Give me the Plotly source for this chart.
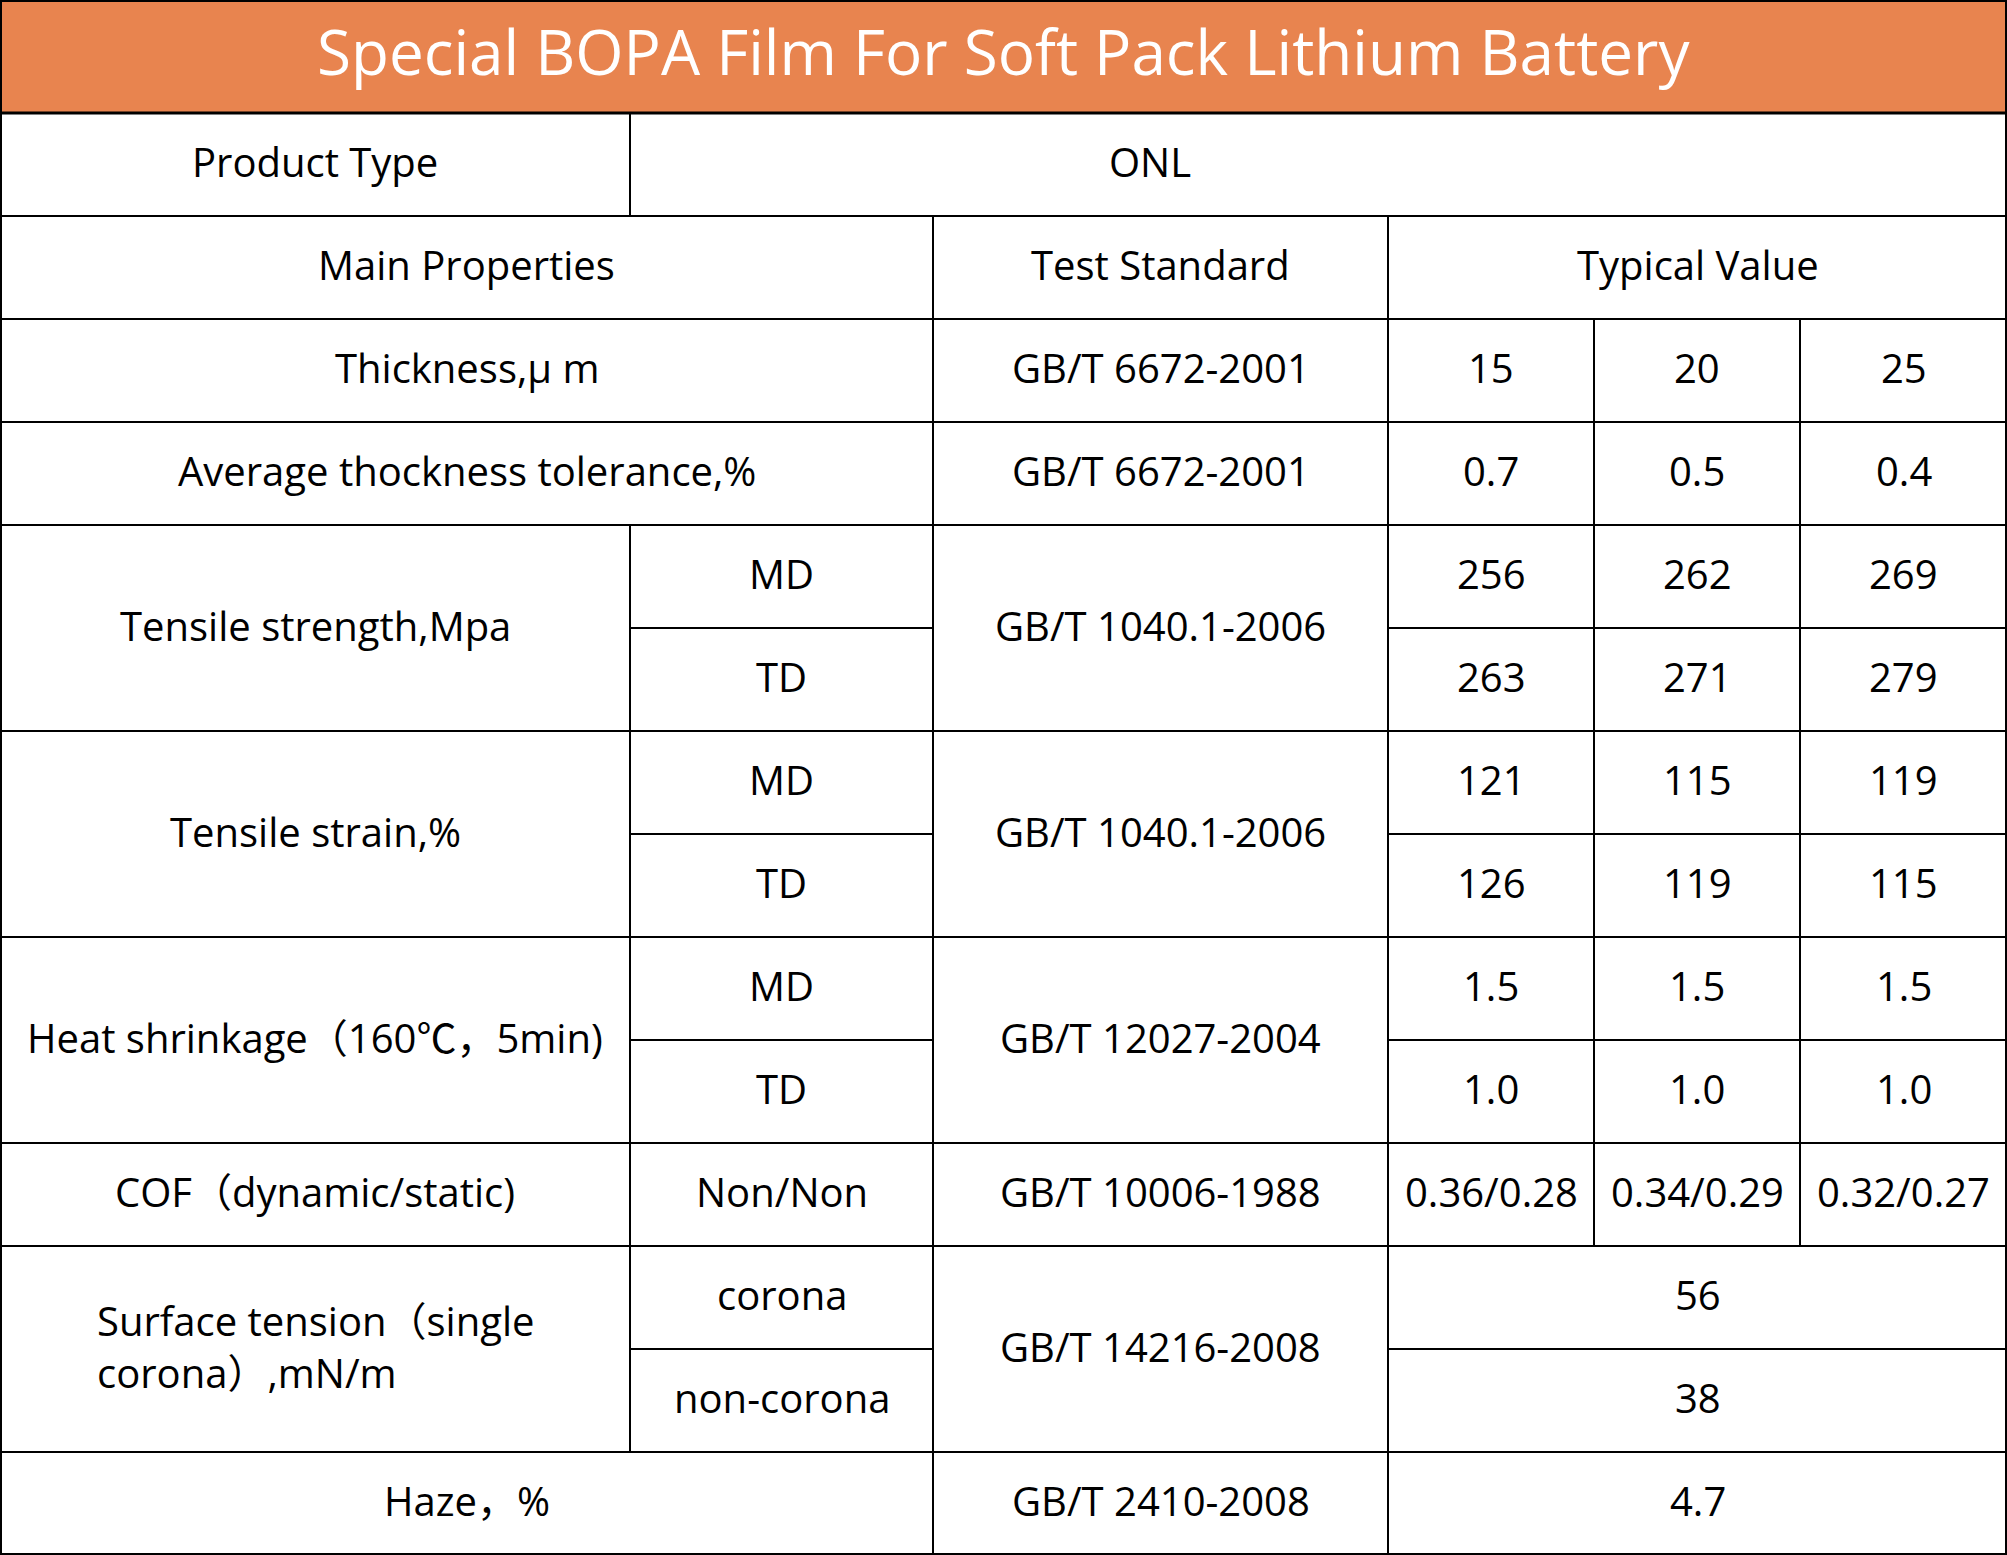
import plotly.graph_objects as go

# ---------------- data ----------------
title = "Special BOPA Film For Soft Pack Lithium Battery"
product_type_label = "Product Type"
product_type = "ONL"
head_labels = ["Main Properties", "Test Standard", "Typical Value"]

properties = ["Thickness,μ m", "Average thockness tolerance,%", "Tensile strength,Mpa",
              "Tensile strain,%", "Heat shrinkage（160℃，5min)", "COF（dynamic/static)",
              "Surface tension（single<br>corona）,mN/m", "Haze，%"]
sub_labels = [[], [], ["MD", "TD"], ["MD", "TD"], ["MD", "TD"], ["Non/Non"],
              ["corona", "non-corona"], []]
standards = ["GB/T 6672-2001", "GB/T 6672-2001", "GB/T 1040.1-2006", "GB/T 1040.1-2006",
             "GB/T 12027-2004", "GB/T 10006-1988", "GB/T 14216-2008", "GB/T 2410-2008"]
thickness = ["15", "20", "25"]
tolerance = ["0.7", "0.5", "0.4"]
tensile_md = ["256", "262", "269"]
tensile_td = ["263", "271", "279"]
strain_md = ["121", "115", "119"]
strain_td = ["126", "119", "115"]
heat_md = ["1.5", "1.5", "1.5"]
heat_td = ["1.0", "1.0", "1.0"]
cof = ["0.36/0.28", "0.34/0.29", "0.32/0.27"]
surface_corona = "56"
surface_noncorona = "38"
haze = "4.7"

# ---------------- layout constants ----------------
W, H = 2007, 1555
HEADER_H = 113
ROW_H = (H - HEADER_H) / 14
COL_EDGES = [0, 630, 933, 1388, 1594, 1800, W]
ORANGE = "#E8844F"
FONT = "Open Sans, Noto Sans CJK SC, sans-serif"
FS = 40
ONL_SHIFT = -169  # text of the merged product-type cell sits left of centre

cells = []  # (row, rowspan, col, colspan, text, align, dx)


def add(r, rs, c, cs, text, align="center", dx=0):
    cells.append((r, rs, c, cs, text, align, dx))


add(0, 1, 0, 1, product_type_label)
add(0, 1, 1, 5, product_type, dx=ONL_SHIFT)
add(1, 1, 0, 2, head_labels[0])
add(1, 1, 2, 1, head_labels[1])
add(1, 1, 3, 3, head_labels[2])

value_rows = [[thickness], [tolerance], [tensile_md, tensile_td], [strain_md, strain_td],
              [heat_md, heat_td], [cof], [[surface_corona], [surface_noncorona]], [[haze]]]
spans = [1, 1, 2, 2, 2, 1, 2, 1]

r = 2
for i, prop in enumerate(properties):
    span = spans[i]
    subs = sub_labels[i]
    if subs:
        add(r, span, 0, 1, prop, "left" if "<br>" in prop else "center")
        sub_h = span / len(subs)
        for k, s in enumerate(subs):
            add(r + k * sub_h, sub_h, 1, 1, s)
    else:
        add(r, span, 0, 2, prop)
    add(r, span, 2, 1, standards[i])
    vals = value_rows[i]
    vh = span / len(vals)
    for k, row_vals in enumerate(vals):
        if len(row_vals) == 3:
            for j, v in enumerate(row_vals):
                add(r + k * vh, vh, 3 + j, 1, v)
        else:
            add(r + k * vh, vh, 3, 3, row_vals[0])
    r += span


def ypos(row):
    return HEADER_H + row * ROW_H


fig = go.Figure()
shapes = []
annotations = []

# header band
shapes.append(dict(type="rect", xref="x", yref="y", x0=0, x1=W, y0=0, y1=HEADER_H,
                   fillcolor=ORANGE, line=dict(color="black", width=3), layer="below"))
annotations.append(dict(x=W / 2, y=HEADER_H / 2 - 6, xref="x", yref="y", text=title,
                        showarrow=False, font=dict(family=FONT, size=62, color="white"),
                        xanchor="center", yanchor="middle"))

for (row, rs, c, cs, text, align, dx) in cells:
    x0, x1 = COL_EDGES[c], COL_EDGES[c + cs]
    y0, y1 = ypos(row), ypos(row + rs)
    shapes.append(dict(type="rect", xref="x", yref="y", x0=x0, x1=x1, y0=y0, y1=y1,
                       line=dict(color="black", width=2), fillcolor="rgba(0,0,0,0)"))
    annotations.append(dict(x=(x0 + x1) / 2 + dx, y=(y0 + y1) / 2 - 3, xref="x", yref="y",
                            text=text, showarrow=False, align=align,
                            font=dict(family=FONT, size=FS, color="black"),
                            xanchor="center", yanchor="middle"))

# outer border
shapes.append(dict(type="rect", xref="x", yref="y", x0=0, x1=W, y0=0, y1=H,
                   line=dict(color="black", width=4), fillcolor="rgba(0,0,0,0)"))

fig.update_layout(
    width=W, height=H, margin=dict(l=0, r=0, t=0, b=0),
    paper_bgcolor="white", plot_bgcolor="white",
    xaxis=dict(range=[0, W], visible=False, fixedrange=True),
    yaxis=dict(range=[H, 0], visible=False, fixedrange=True),
    shapes=shapes, annotations=annotations, showlegend=False,
)

fig.write_html("out.html", config={"displayModeBar": False},
               post_script="document.body.style.margin='0';document.body.style.overflow='hidden';")
